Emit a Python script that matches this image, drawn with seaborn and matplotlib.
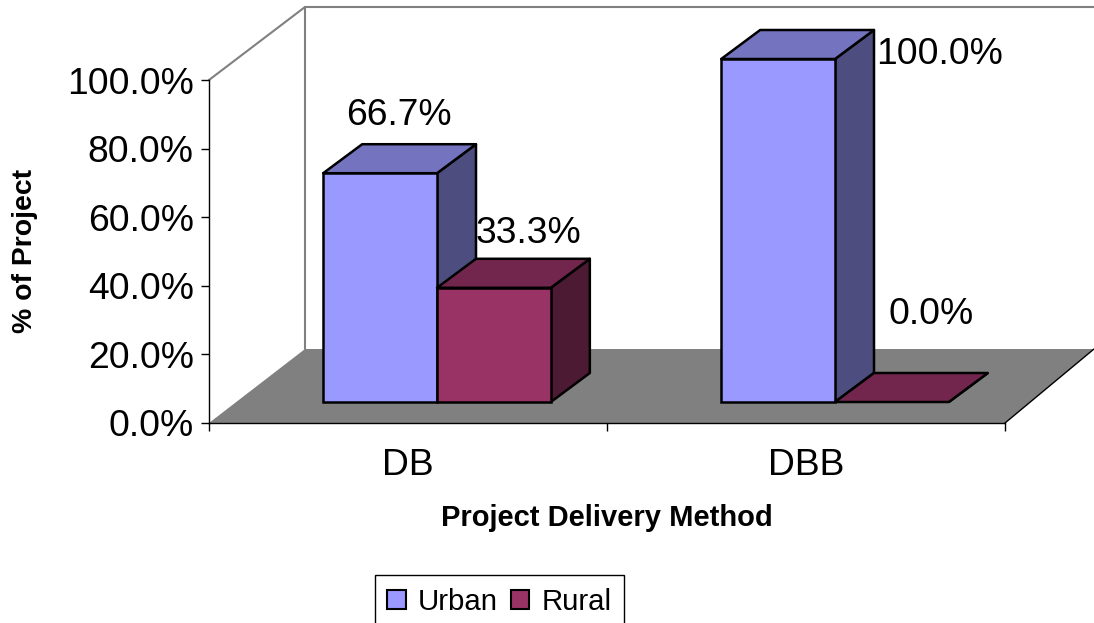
from __future__ import annotations

import matplotlib

matplotlib.use("Agg")

import matplotlib.pyplot as plt
import pandas as pd
import seaborn as sns
from matplotlib.patches import Patch, Polygon
from matplotlib.ticker import FuncFormatter
from matplotlib.transforms import IdentityTransform, ScaledTranslation

METHODS = ["DB", "DBB"]
AREAS = ["Urban", "Rural"]
URBAN_SHARE = [66.7, 100.0]
RURAL_SHARE = [33.3, 0.0]
Y_TICKS = [0, 20, 40, 60, 80, 100]

COLORS = {"Urban": "#9999FF", "Rural": "#993366"}
TOP_COLORS = {"Urban": "#7373BF", "Rural": "#73264D"}
SIDE_COLORS = {"Urban": "#4D4D80", "Rural": "#4D1A33"}
WALL_GREY = "#808080"

W, H = 1094, 623
DPI = 100
# plot box in image pixels, and the fake 3D offsets
LEFT, RIGHT, TOP, BOTTOM = 209, 1005, 80, 423
FLOOR_DX, FLOOR_DY = 96, 74
BAR_SHIFT = (29, 21)
BAR_DEPTH = (39, 29)
# label shifts from the middle of each bar's top edge (px right, px up)
LABEL_SHIFTS = {
    ("DB", "Urban"): (19, 58),
    ("DB", "Rural"): (35, 54),
    ("DBB", "Urban"): (161, 4),
    ("DBB", "Rural"): (39, 88),
}


def draw_walls(fig):
    def line(xs, ys, color, lw=1.5):
        fig.add_artist(plt.Line2D([x / W for x in xs], [1 - y / H for y in ys],
                                  color=color, lw=lw, zorder=-1))

    back_x = LEFT + FLOOR_DX
    back_y = BOTTOM - FLOOR_DY
    top_y = TOP - FLOOR_DY + 1
    floor = [(LEFT, BOTTOM), (back_x, back_y), (W, back_y), (RIGHT, BOTTOM)]
    fig.add_artist(Polygon([(x / W, 1 - y / H) for x, y in floor], closed=True,
                           facecolor=WALL_GREY, edgecolor="none",
                           transform=fig.transFigure, zorder=-2))
    line([LEFT, back_x], [TOP, top_y], WALL_GREY)
    line([back_x, back_x], [top_y, back_y], WALL_GREY)
    line([back_x, W], [top_y, top_y], WALL_GREY)
    line([RIGHT, W], [BOTTOM, back_y], "black", lw=1)


def draw_box_faces(fig, ax, bar, area):
    x0, x1 = bar.get_x(), bar.get_x() + bar.get_width()
    height = bar.get_height()
    (px0, py0), (px1, py1) = ax.transData.transform([(x0, height), (x1, 0)])
    dx, dy = BAR_DEPTH
    z = 3 if area == "Urban" else 4
    shift = ScaledTranslation(BAR_SHIFT[0] / DPI, BAR_SHIFT[1] / DPI, fig.dpi_scale_trans)
    top = [(px0, py0), (px1, py0), (px1 + dx, py0 + dy), (px0 + dx, py0 + dy)]
    side = [(px1, py0), (px1 + dx, py0 + dy), (px1 + dx, py1 + dy), (px1, py1)]
    for pts, color in ((side, SIDE_COLORS[area]), (top, TOP_COLORS[area])):
        ax.add_patch(Polygon(pts, closed=True, facecolor=color, edgecolor="black",
                             linewidth=1.8, joinstyle="round", zorder=z, clip_on=False,
                             transform=IdentityTransform() + shift))


def main() -> None:
    sns.set_theme(style="white")
    plt.rcParams["font.family"] = ["Liberation Sans", "DejaVu Sans"]
    plt.rcParams["text.color"] = "black"

    df = pd.DataFrame({
        "method": METHODS * 2,
        "area": ["Urban"] * len(METHODS) + ["Rural"] * len(METHODS),
        "share": URBAN_SHARE + RURAL_SHARE,
    })

    fig = plt.figure(figsize=(W / DPI, H / DPI), dpi=DPI)
    ax = fig.add_axes([LEFT / W, 1 - BOTTOM / H, (RIGHT - LEFT) / W, (BOTTOM - TOP) / H])
    ax.patch.set_alpha(0)
    draw_walls(fig)

    sns.barplot(data=df, x="method", y="share", hue="area", order=METHODS, hue_order=AREAS,
                palette=COLORS, width=0.572, gap=0, errorbar=None, saturation=1,
                edgecolor="black", linewidth=1.8, legend=False, ax=ax)
    ax.set_xlim(-0.5, 1.5)
    ax.set_ylim(0, 100)
    fig.canvas.draw()

    shift_tr = ax.transData + ScaledTranslation(BAR_SHIFT[0] / DPI, BAR_SHIFT[1] / DPI,
                                                fig.dpi_scale_trans)
    for container, area in zip(ax.containers, AREAS):
        for bar, method in zip(container, METHODS):
            draw_box_faces(fig, ax, bar, area)
            bar.set_transform(shift_tr)
            bar.set_zorder(3.5 if area == "Urban" else 4.5)
            bar.set_clip_on(False)
            if bar.get_height() == 0:
                bar.set_visible(False)
            sx, sy = LABEL_SHIFTS[(method, area)]
            ax.annotate(f"{bar.get_height():.1f}%",
                        (bar.get_x() + bar.get_width() / 2, bar.get_height()),
                        xytext=((BAR_SHIFT[0] + sx) * 0.72, (BAR_SHIFT[1] + sy) * 0.72),
                        textcoords="offset points", ha="center", va="center",
                        fontsize=26.8, color="black", zorder=6, annotation_clip=False)

    ax.set_yticks(Y_TICKS)
    ax.yaxis.set_major_formatter(FuncFormatter(lambda v, _: f"{v:.1f}%"))
    ax.tick_params(axis="y", length=6, width=1, color="black", labelsize=26.8, labelcolor="black",
                   pad=5, left=True)
    ax.set_xticks([-0.5, 0.5, 1.5], minor=True)
    ax.tick_params(axis="x", which="minor", length=6, width=1, color="black", bottom=True)
    ax.tick_params(axis="x", which="major", length=0, labelsize=26.8, labelcolor="black", pad=18)
    for name in ("top", "right"):
        ax.spines[name].set_visible(False)
    for name in ("left", "bottom"):
        ax.spines[name].set_color("black")
        ax.spines[name].set_linewidth(1)
        ax.spines[name].set_zorder(2)
    ax.set_xlabel("")
    ax.set_ylabel("")

    fig.text(607 / W, 1 - 518 / H, "Project Delivery Method", fontsize=21, fontweight="bold",
             ha="center", va="center")
    fig.text(25 / W, 1 - 251 / H, "% of Project", fontsize=20.4, fontweight="bold",
             rotation=90, ha="center", va="center")

    handles = [Patch(facecolor=COLORS[a], edgecolor="black", linewidth=1.5, label=a) for a in AREAS]
    leg = fig.legend(handles=handles, loc="lower left", bbox_to_anchor=(375 / W, 1 - 628 / H),
                     ncol=2, frameon=True, fancybox=False, edgecolor="black", framealpha=1,
                     fontsize=21.2, handlelength=0.63, handleheight=0.63, handletextpad=0.4,
                     columnspacing=0.45, borderpad=0.42, borderaxespad=0)
    leg.get_frame().set_linewidth(1)

    fig.savefig("out.png", dpi=DPI)
    plt.close(fig)


if __name__ == "__main__":
    main()
